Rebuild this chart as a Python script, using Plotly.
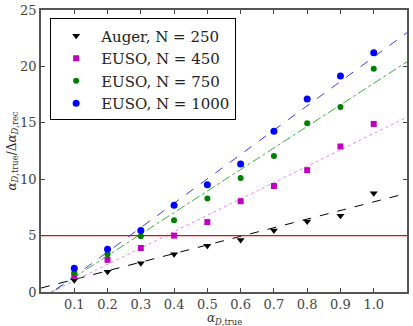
import plotly.graph_objects as go

# alpha_D,true values
alpha_true = [0.1, 0.2, 0.3, 0.4, 0.5, 0.6, 0.7, 0.8, 0.9, 1.0]

# alpha_true / delta alpha_rec for each experiment
auger_250 = [1.05, 1.8, 2.55, 3.35, 4.1, 4.6, 5.45, 6.25, 6.75, 8.75]
euso_450 = [1.45, 2.85, 3.9, 5.0, 6.2, 8.05, 9.4, 10.8, 12.9, 14.9]
euso_750 = [1.7, 3.35, 4.95, 6.35, 8.3, 10.1, 12.05, 14.95, 16.4, 19.8]
euso_1000 = [2.1, 3.8, 5.45, 7.7, 9.5, 11.35, 14.25, 17.1, 19.15, 21.2]

# linear fits (slope, intercept)
fit_auger = (7.64, 0.35)
fit_450 = (14.5, -0.45)
fit_750 = (19.1, -0.6)
fit_1000 = (21.6, -0.77)

threshold = 5
fit_x = [0, 1.1]

serif = "DejaVu Serif"

series = [
    ("Auger, N = 250", auger_250, fit_auger, "black", "triangle-down", 7, "black", "dash"),
    ("EUSO, N = 450", euso_450, fit_450, "#bf00bf", "square", 6, "#ee82ee", "dot"),
    ("EUSO, N = 750", euso_750, fit_750, "#008000", "circle", 6, "#3cb043", "dashdot"),
    ("EUSO, N = 1000", euso_1000, fit_1000, "#0000ff", "circle", 7, "#3a3aff", "dash"),
]

fig = go.Figure()

# fit lines first so markers sit on top
for name, vals, (m, b), col, sym, size, lcol, dash in series:
    fig.add_trace(go.Scatter(
        x=fit_x, y=[m * x + b for x in fit_x],
        mode="lines", line=dict(color=lcol, width=1, dash=dash),
        showlegend=False, hoverinfo="skip"))

fig.add_trace(go.Scatter(
    x=fit_x, y=[threshold, threshold], mode="lines",
    line=dict(color="#ff0000", width=1.4), showlegend=False))

for name, vals, (m, b), col, sym, size, lcol, dash in series:
    fig.add_trace(go.Scatter(
        x=alpha_true, y=vals, mode="markers", name=name,
        marker=dict(color=col, symbol=sym, size=size, line=dict(width=0))))

tickfont = dict(family=serif, size=13, color="#444")

fig.update_layout(
    width=413, height=326,
    margin=dict(l=41, r=6, t=10, b=34),
    paper_bgcolor="white", plot_bgcolor="white",
    font=dict(family=serif, size=12, color="#333"),
    showlegend=True,
    legend=dict(x=0.025, y=0.97, xanchor="left", yanchor="top",
                bgcolor="white", bordercolor="black", borderwidth=1,
                font=dict(family=serif, size=15, color="#222"),
                itemwidth=40, tracegroupgap=0),
    xaxis=dict(range=[0, 1.1], tickvals=alpha_true,
               ticktext=[f"{v:.1f}" for v in alpha_true], tickfont=tickfont,
               ticks="inside", ticklen=4, tickcolor="#444",
               showline=True, linecolor="#555", linewidth=1.5, mirror="ticks",
               showgrid=False, zeroline=False, automargin=False),
    yaxis=dict(range=[0, 25], tickvals=[0, 5, 10, 15, 20, 25], tickfont=tickfont,
               ticks="inside", ticklen=4, tickcolor="#444",
               showline=True, linecolor="#555", linewidth=1.5, mirror="ticks",
               showgrid=False, zeroline=False, automargin=False,
               title=dict(text="<i>α</i><sub><i>D</i>,true</sub>/Δ<i>α</i><sub><i>D</i>,rec</sub>",
                          standoff=0, font=dict(size=12))),
)

# x axis title as an annotation, just below the tick labels
fig.add_annotation(text="<i>α</i><sub><i>D</i>,true</sub>", xref="paper", yref="paper",
                   x=0.5, y=-0.062, xanchor="center", yanchor="top", showarrow=False,
                   font=dict(family=serif, size=12, color="#333"))

# drop the default page margin so the figure sits at the window's corner
fig.write_html("out.html", config={"displayModeBar": False},
               post_script="document.body.style.margin='0';")
